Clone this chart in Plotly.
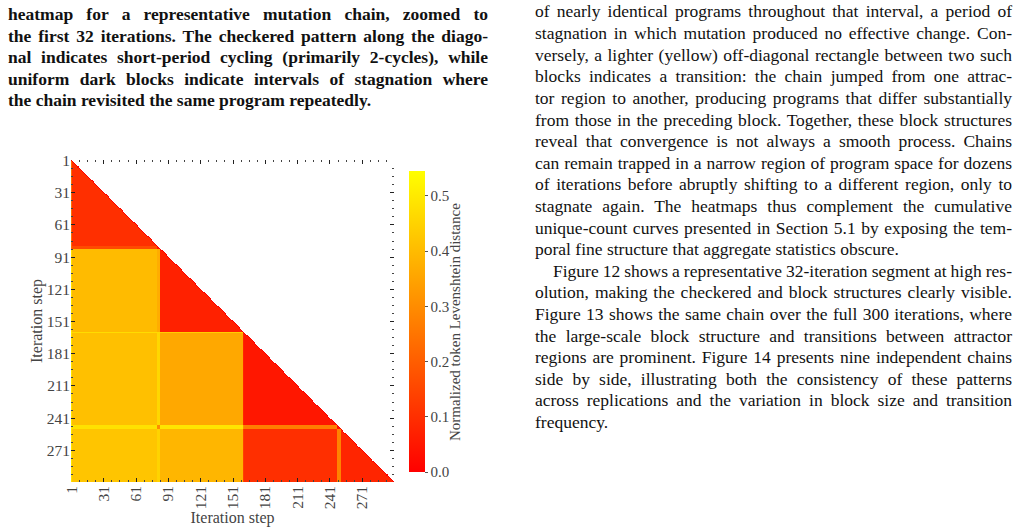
import plotly.graph_objects as go
import json

# ---------------- data ----------------
# program "states" along the chain as run-lengths (read from the block structure)
state_names = ["S0", "A", "T1", "B", "C0", "C", "T2", "E"]
state_runs = [1, 79, 3, 77, 1, 86, 4, 49]  # iterations 1..300

# block-level normalized token Levenshtein distances between states
dist_pairs = {
    ("S0", "S0"): 0.00,
    ("A", "S0"): 0.24, ("A", "A"): 0.10,
    ("T1", "S0"): 0.24, ("T1", "A"): 0.16, ("T1", "T1"): 0.05,
    ("B", "S0"): 0.48, ("B", "A"): 0.40, ("B", "T1"): 0.37, ("B", "B"): 0.07,
    ("C0", "S0"): 0.50, ("C0", "A"): 0.47, ("C0", "T1"): 0.47, ("C0", "B"): 0.44, ("C0", "C0"): 0.0,
    ("C", "S0"): 0.49, ("C", "A"): 0.41, ("C", "T1"): 0.46, ("C", "B"): 0.36, ("C", "C0"): 0.08, ("C", "C"): 0.05,
    ("T2", "S0"): 0.52, ("T2", "A"): 0.48, ("T2", "T1"): 0.30, ("T2", "B"): 0.49, ("T2", "C0"): 0.30,
    ("T2", "C"): 0.27, ("T2", "T2"): 0.03,
    ("E", "S0"): 0.49, ("E", "A"): 0.42, ("E", "T1"): 0.45, ("E", "B"): 0.39, ("E", "C0"): 0.14,
    ("E", "C"): 0.10, ("E", "T2"): 0.28, ("E", "E"): 0.08,
}

tick_vals = [1, 31, 61, 91, 121, 151, 181, 211, 241, 271]
cbar_ticks = [0.0, 0.1, 0.2, 0.3, 0.4, 0.5]
z_max = 0.545

left_lines = [
    "heatmap for a representative mutation chain, zoomed to",
    "the first 32 iterations. The checkered pattern along the diago-",
    "nal indicates short-period cycling (primarily 2-cycles), while",
    "uniform dark blocks indicate intervals of stagnation where",
    "the chain revisited the same program repeatedly.",
]
right_lines = [
    "of nearly identical programs throughout that interval, a period of",
    "stagnation in which mutation produced no effective change. Con-",
    "versely, a lighter (yellow) off-diagonal rectangle between two such",
    "blocks indicates a transition: the chain jumped from one attrac-",
    "tor region to another, producing programs that differ substantially",
    "from those in the preceding block. Together, these block structures",
    "reveal that convergence is not always a smooth process. Chains",
    "can remain trapped in a narrow region of program space for dozens",
    "of iterations before abruptly shifting to a different region, only to",
    "stagnate again. The heatmaps thus complement the cumulative",
    "unique-count curves presented in Section 5.1 by exposing the tem-",
    "poral fine structure that aggregate statistics obscure.",
    "Figure 12 shows a representative 32-iteration segment at high res-",
    "olution, making the checkered and block structures clearly visible.",
    "Figure 13 shows the same chain over the full 300 iterations, where",
    "the large-scale block structure and transitions between attractor",
    "regions are prominent. Figure 14 presents nine independent chains",
    "side by side, illustrating both the consistency of these patterns",
    "across replications and the variation in block size and transition",
    "frequency.",
]
right_last_of_par = {11, 19}
right_indent = {12}

# ---------------- build matrix ----------------
states = []
for name, n in zip(state_names, state_runs):
    states += [name] * n
N = len(states)
iters = list(range(1, N + 1))


def dist(a, b):
    return dist_pairs.get((a, b), dist_pairs.get((b, a)))


z = []
for i in range(N):
    row = []
    for j in range(N):
        if j > i:
            row.append(None)
        elif j == i:
            row.append(0.0)
        else:
            row.append(dist(states[i], states[j]))
    z.append(row)

W, H = 1024, 528
px = lambda v: v / W
py = lambda v: 1 - v / H

serif = "Liberation Serif"
FS = 17.5
grey = "#444"

fig = go.Figure()
fig.add_trace(go.Heatmap(
    x=iters, y=iters, z=z,
    zmin=0, zmax=z_max,
    colorscale=[[0, "#ff0000"], [1, "#ffff00"]],
    hoverongaps=False,
    colorbar=dict(
        x=px(409), xanchor="left", xref="paper",
        y=py(321.5), yanchor="middle",
        len=301 / H, lenmode="fraction",
        thickness=16, thicknessmode="pixels",
        xpad=0, ypad=0, outlinewidth=0,
        tickvals=cbar_ticks, ticktext=[f"{t:.1f}" for t in cbar_ticks],
        ticks="outside", ticklen=3, tickcolor="#555",
        tickfont=dict(family=serif, size=15, color=grey),
    ),
))

axis_common = dict(
    tickvals=tick_vals, automargin=False,
    ticks="inside", ticklen=4, tickcolor="#222", tickwidth=1.2,
    mirror="ticks", showline=False, showgrid=False, zeroline=False,
    tickfont=dict(family=serif, size=15.5, color=grey),
    minor=dict(tick0=1, dtick=7.5, ticks="inside", ticklen=2, tickcolor="#444", showgrid=False),
)
fig.update_layout(
    width=W, height=H,
    margin=dict(l=0, r=0, t=0, b=0, autoexpand=False),
    paper_bgcolor="white", plot_bgcolor="white",
    xaxis=dict(axis_common, domain=[px(71), px(394)], tickangle=-90, range=[0.5, N + 0.5],
               title=dict(text="Iteration step", font=dict(family=serif, size=16, color=grey), standoff=0)),
    yaxis=dict(axis_common, domain=[py(482), py(160)], autorange=False, range=[N + 0.5, 0.5],
               title=dict(text="Iteration step", font=dict(family=serif, size=16, color=grey), standoff=0)),
    showlegend=False,
)

annotations = []
layout_targets = {}
for k, line in enumerate(left_lines):
    right = 488 if k < len(left_lines) - 1 else None
    layout_targets[len(annotations)] = [8, right]
    annotations.append(dict(text=f"<b>{line}</b>", x=px(8), y=py(14 + 21.6 * k), xref="paper", yref="paper",
                            xanchor="left", yanchor="middle", align="left", showarrow=False,
                            font=dict(family=serif, size=FS, color="#111")))
for k, line in enumerate(right_lines):
    x0 = 553 if k in right_indent else 535
    right = None if k in right_last_of_par else 1012
    layout_targets[len(annotations)] = [x0, right]
    annotations.append(dict(text=line, x=px(x0), y=py(11.5 + 21.6 * k), xref="paper", yref="paper",
                            xanchor="left", yanchor="middle", align="left", showarrow=False,
                            font=dict(family=serif, size=FS, color="#111")))
# colorbar title
annotations.append(dict(text="Normalized token Levenshtein distance", textangle=-90,
                        x=px(455), y=py(322), xref="paper", yref="paper",
                        xanchor="center", yanchor="middle", showarrow=False,
                        font=dict(family=serif, size=15, color=grey)))
fig.update_layout(annotations=annotations)

post = """
document.documentElement.style.margin = '0';
document.body.style.margin = '0';
var targets = %s;
var gd = document.getElementById('{plot_id}');
var groups = gd.querySelectorAll('g.annotation');
groups.forEach(function(g){
  var idx = g.getAttribute('data-index');
  if (!(idx in targets)) return;
  var t = g.querySelector('text.annotation-text');
  if (!t) return;
  var left = targets[idx][0], right = targets[idx][1];
  if (right !== null) {
    var len = t.getComputedTextLength();
    var sp = (t.textContent.match(/ /g) || []).length;
    if (sp > 0) { t.style.wordSpacing = ((right - left - len) / sp) + 'px'; }
  }
  var r = t.getBoundingClientRect();
  var gr = gd.getBoundingClientRect();
  var x = parseFloat(t.getAttribute('x') || '0');
  t.setAttribute('x', x + (left - (r.left - gr.left)));
});
""" % json.dumps({str(k): v for k, v in layout_targets.items()})

fig.write_html("out.html", post_script=post)
